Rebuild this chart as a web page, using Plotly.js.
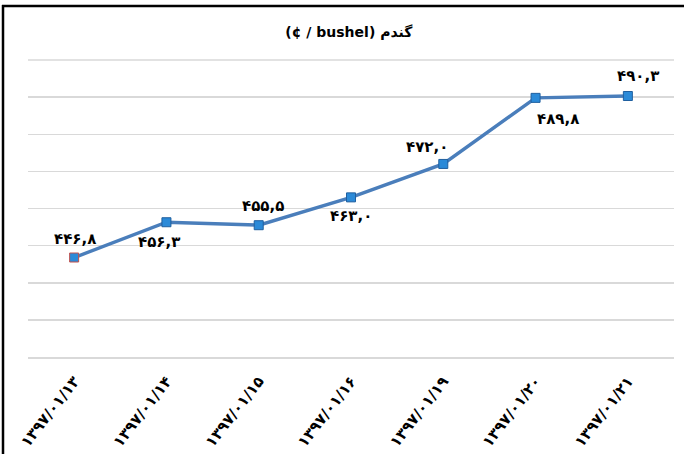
<!DOCTYPE html>
<html>
<head>
<meta charset="utf-8">
<script src="https://cdn.plot.ly/plotly-3.0.1.min.js"></script>
<style>html,body{margin:0;padding:0;background:#fff;}#chart{width:684px;height:454px;}</style>
</head>
<body>
<div id="chart"></div>
<script>
const categories = ['۱۳۹۷/۰۱/۱۳','۱۳۹۷/۰۱/۱۴','۱۳۹۷/۰۱/۱۵','۱۳۹۷/۰۱/۱۶','۱۳۹۷/۰۱/۱۹','۱۳۹۷/۰۱/۲۰','۱۳۹۷/۰۱/۲۱'];
const values = [446.8, 456.3, 455.5, 463.0, 472.0, 489.8, 490.3];
const labelShiftX = [1, -7, 4, 0, -16, 22, 10];
const labelShiftY = [19, -20, 19, -19, 17, -21, 20];
const titleText = '(¢ / bushel) گندم';

const fa = s => s.replace(/\d/g, d => '۰۱۲۳۴۵۶۷۸۹'[d]);
const labels = values.map(v => fa(v.toFixed(1)).replace('.', ','));

const W = 684, H = 454, L = 28, R = 10, T = 60, B = 97;
const pw = W - L - R, ph = H - T - B;
const px = x => (x - L) / pw;
const py = y => (H - B - y) / ph;

const trace = {
  x: categories, y: values, type: 'scatter', mode: 'lines+markers',
  line: {color: '#4a7ebb', width: 3.5},
  marker: {symbol: 'square', size: 9, color: '#2b8ad8',
           line: {color: ['#c0504d','#1f5f9f','#1f5f9f','#1f5f9f','#1f5f9f','#1f5f9f','#1f5f9f'], width: 1}},
  cliponaxis: false, hoverinfo: 'none'
};

const annotations = categories.map((c, i) => ({
  x: c, y: values[i], xref: 'x', yref: 'y', text: labels[i], showarrow: false,
  xanchor: 'center', yanchor: 'middle', xshift: labelShiftX[i], yshift: labelShiftY[i],
  font: {family: 'DejaVu Sans', size: 15, color: '#000', weight: 'bold'}
}));

const layout = {
  width: W, height: H,
  margin: {l: L, r: R, t: T, b: B},
  paper_bgcolor: '#fff', plot_bgcolor: '#fff',
  showlegend: false,
  title: {text: titleText, x: 0.51, xanchor: 'center', y: 1 - 32/H, yanchor: 'middle',
          font: {family: 'DejaVu Sans', size: 14, color: '#000', weight: 'bold'}},
  xaxis: {type: 'category', range: [-0.5, 6.5], showgrid: false, zeroline: false,
          showline: true, linecolor: '#d9d9d9', linewidth: 1.5, ticks: '', ticklabelstandoff: 8,
          tickangle: -52, tickfont: {family: 'DejaVu Sans', size: 15, color: '#000', weight: 'bold'}},
  yaxis: {range: [420, 500], dtick: 10, tick0: 420, showticklabels: false, ticks: '',
          showgrid: true, gridcolor: '#d9d9d9', gridwidth: 1.5, zeroline: false, showline: false},
  annotations: annotations,
  shapes: [
    {type: 'line', xref: 'paper', yref: 'paper', x0: px(3), x1: px(3), y0: py(5), y1: py(454), line: {color: '#000', width: 2.5}},
    {type: 'line', xref: 'paper', yref: 'paper', x0: px(2), x1: px(684), y0: py(6), y1: py(6), line: {color: '#000', width: 2.5}},
    {type: 'line', xref: 'paper', yref: 'paper', x0: 0, x1: 1, y0: 1, y1: 1, line: {color: '#d9d9d9', width: 1.5}}
  ]
};

Plotly.newPlot('chart', [trace], layout, {staticPlot: true, displayModeBar: false});
</script>
</body>
</html>
